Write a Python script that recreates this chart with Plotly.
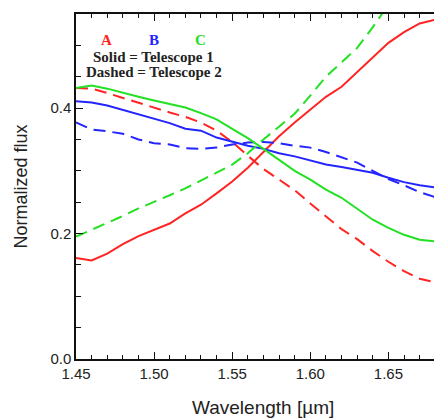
import plotly.graph_objects as go

wavelength = [1.45, 1.46, 1.47, 1.48, 1.49, 1.50, 1.51, 1.52, 1.53, 1.54, 1.55, 1.56,
              1.57, 1.58, 1.59, 1.60, 1.61, 1.62, 1.63, 1.64, 1.65, 1.66, 1.67, 1.68, 1.685]

a_tel1 = [0.161, 0.157, 0.168, 0.183, 0.196, 0.206, 0.216, 0.232, 0.246, 0.264, 0.283, 0.305,
          0.330, 0.355, 0.377, 0.398, 0.418, 0.434, 0.457, 0.481, 0.504, 0.521, 0.535, 0.541, 0.543]
a_tel2 = [0.432, 0.431, 0.424, 0.416, 0.408, 0.400, 0.393, 0.386, 0.377, 0.364, 0.346, 0.324,
          0.303, 0.286, 0.269, 0.248, 0.227, 0.207, 0.191, 0.172, 0.155, 0.140, 0.128, 0.122, 0.121]
b_tel1 = [0.411, 0.409, 0.404, 0.397, 0.389, 0.382, 0.376, 0.367, 0.364, 0.353, 0.346, 0.340,
          0.335, 0.328, 0.323, 0.317, 0.310, 0.306, 0.302, 0.297, 0.289, 0.282, 0.277, 0.273, 0.272]
b_tel2 = [0.377, 0.366, 0.363, 0.359, 0.350, 0.344, 0.342, 0.336, 0.335, 0.337, 0.342, 0.345,
          0.346, 0.344, 0.340, 0.337, 0.330, 0.322, 0.313, 0.300, 0.287, 0.277, 0.266, 0.258, 0.256]
c_tel1 = [0.432, 0.436, 0.431, 0.424, 0.418, 0.412, 0.406, 0.401, 0.392, 0.382, 0.367, 0.352,
          0.335, 0.318, 0.300, 0.286, 0.270, 0.257, 0.240, 0.222, 0.209, 0.198, 0.190, 0.187, 0.186]
c_tel2 = [0.195, 0.206, 0.216, 0.228, 0.240, 0.250, 0.261, 0.272, 0.284, 0.297, 0.310, 0.328,
          0.350, 0.370, 0.391, 0.420, 0.450, 0.473, 0.496, 0.529, 0.565]

x_ticks = [1.45, 1.50, 1.55, 1.60, 1.65]
y_ticks = [0.0, 0.2, 0.4]

RED = "#ff2424"
BLUE = "#2424ff"
GREEN = "#22e022"
DASH = "12px,7px"

fig = go.Figure()
series = [
    (a_tel1, RED, "solid"), (a_tel2, RED, DASH),
    (b_tel1, BLUE, "solid"), (b_tel2, BLUE, DASH),
    (c_tel1, GREEN, "solid"), (c_tel2, GREEN, DASH),
]
for ys, col, dash in series:
    fig.add_trace(go.Scatter(x=wavelength[:len(ys)], y=ys, mode="lines",
                             line=dict(color=col, width=2, dash=dash),
                             showlegend=False, hoverinfo="skip"))

serif = dict(family="Liberation Serif", size=15, color="#222222")
fig.add_annotation(x=1.4697, y=0.508, text="<b>A</b>", showarrow=False,
                   font=dict(family="Liberation Serif", size=15, color=RED))
fig.add_annotation(x=1.4999, y=0.508, text="<b>B</b>", showarrow=False,
                   font=dict(family="Liberation Serif", size=15, color=BLUE))
fig.add_annotation(x=1.530, y=0.508, text="<b>C</b>", showarrow=False,
                   font=dict(family="Liberation Serif", size=15, color=GREEN))
fig.add_annotation(x=1.4997, y=0.482, text="<b>Solid = Telescope 1</b>", showarrow=False, font=serif)
fig.add_annotation(x=1.500, y=0.457, text="<b>Dashed = Telescope 2</b>", showarrow=False, font=serif)

title_font = dict(family="Liberation Sans, Arial, sans-serif", size=19, color="#222222")
fig.add_annotation(xref="paper", yref="paper", x=0.51, y=-0.141, yanchor="middle",
                   text="Wavelength [µm]", showarrow=False, font=title_font)
fig.add_annotation(xref="paper", yref="paper", x=-0.153, y=0.5, xanchor="center",
                   text="Normalized flux", textangle=-90, showarrow=False,
                   font=dict(family="Liberation Sans, Arial, sans-serif", size=18, color="#222222"))

axis_font = dict(family="Liberation Sans, Arial, sans-serif", size=15, color="#222222")
fig.update_xaxes(range=[1.45, 1.6843], tickvals=x_ticks, tickformat=".2f", automargin=False,
                 ticks="inside", ticklen=7, tickwidth=1.3, tickcolor="#111",
                 showline=True, linecolor="#111", linewidth=1.5, mirror="ticks",
                 showgrid=False, zeroline=False, tickfont=axis_font,
                 minor=dict(dtick=0.01, ticks="inside", ticklen=4, tickwidth=1.2, tickcolor="#111", showgrid=False))
fig.update_yaxes(range=[0, 0.55], tickvals=y_ticks, tickformat=".1f", automargin=False,
                 ticks="inside", ticklen=7, tickwidth=1.3, tickcolor="#111",
                 showline=True, linecolor="#111", linewidth=1.5, mirror=False,
                 showgrid=False, zeroline=False, tickfont=axis_font,
                 minor=dict(dtick=0.05, ticks="inside", ticklen=5, tickwidth=1.2, tickcolor="#111", showgrid=False))

fig.update_layout(width=434, height=411, margin=dict(l=68, r=0, t=6, b=60, autoexpand=False),
                  plot_bgcolor="white", paper_bgcolor="white")
fig.write_html("out.html")
